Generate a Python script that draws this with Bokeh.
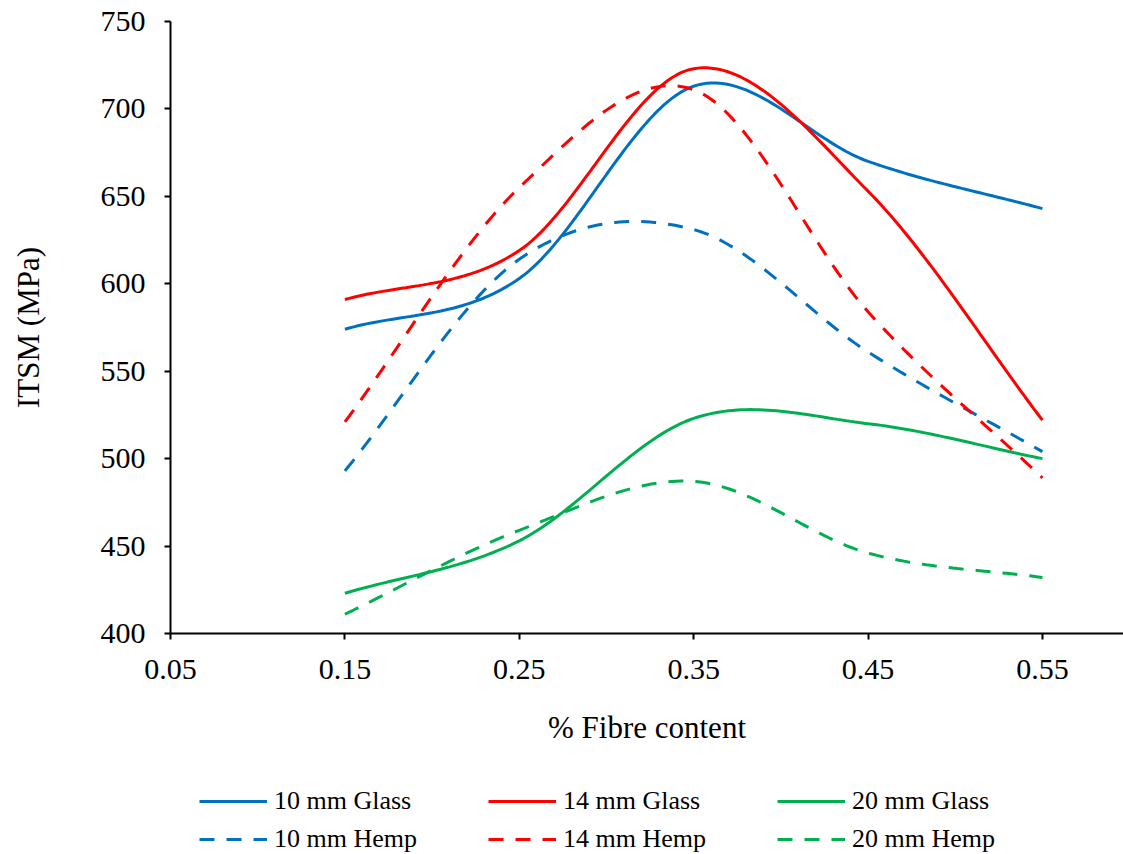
import numpy as np
from bokeh.plotting import figure
from bokeh.layouts import column
from bokeh.models import (Range1d, FixedTicker, NumeralTickFormatter, Legend, LegendItem,
                          ColumnDataSource)
from bokeh.embed import file_html
from bokeh.resources import INLINE

# ---- data ----
fibre = [0.15, 0.25, 0.35, 0.45, 0.55]
glass_10 = [574, 603, 713, 670, 643]
glass_14 = [591, 619, 723, 653, 522]
glass_20 = [423, 453, 523, 520, 500]
hemp_10 = [493, 614, 631, 561, 504]
hemp_14 = [521, 655, 711, 584, 489]
hemp_20 = [411, 459, 487, 446, 432]

x_ticks = [0.05, 0.15, 0.25, 0.35, 0.45, 0.55]
y_ticks = [400, 450, 500, 550, 600, 650, 700, 750]

series = [
    ("10 mm Glass", glass_10, "#0070C0", "solid"),
    ("14 mm Glass", glass_14, "#FF0000", "solid"),
    ("20 mm Glass", glass_20, "#00B050", "solid"),
    ("10 mm Hemp", hemp_10, "#0070C0", "15 12"),
    ("14 mm Hemp", hemp_14, "#FF0000", "15 12"),
    ("20 mm Hemp", hemp_20, "#00B050", "15 12"),
]


def smooth(xs, ys, n=40):
    """Excel-like smoothed line: cubic Bezier through the points."""
    P = np.column_stack([xs, ys]).astype(float)
    N = len(P)
    out = []
    for i in range(N - 1):
        a, b = P[i], P[i + 1]
        p0 = P[i - 1] if i > 0 else 2 * a - b
        p3 = P[i + 2] if i + 2 < N else 2 * b - a
        c1 = a + (b - p0) / 6.0
        c2 = b - (p3 - a) / 6.0
        t = np.linspace(0, 1, n, endpoint=(i == N - 2))[:, None]
        seg = ((1 - t) ** 3) * a + 3 * ((1 - t) ** 2) * t * c1 + 3 * (1 - t) * t ** 2 * c2 + t ** 3 * b
        out.append(seg)
    out = np.vstack(out)
    return out[:, 0], out[:, 1]


FONT = "Liberation Serif"

p = figure(width=1123, height=760, output_backend="svg", toolbar_location=None,
           x_range=Range1d(0.05, 0.5965), y_range=Range1d(400, 750),
           min_border_left=170, min_border_right=0, min_border_top=21,
           min_border_bottom=127)
p.outline_line_color = None
p.xgrid.visible = False
p.ygrid.visible = False
p.background_fill_color = "white"
p.border_fill_color = "white"

for name, vals, color, dash in series:
    sx, sy = smooth(fibre, vals)
    src = ColumnDataSource(dict(x=sx, y=sy))
    p.line("x", "y", source=src, line_color=color, line_width=3, line_dash=dash)

for ax in (p.xaxis[0], p.yaxis[0]):
    ax.axis_line_width = 2
    ax.axis_line_color = "black"
    ax.major_tick_line_width = 2
    ax.major_tick_line_color = "black"
    ax.major_tick_in = 0
    ax.major_tick_out = 6
    ax.minor_tick_line_color = None
    ax.major_label_text_font = FONT
    ax.major_label_text_font_size = "30px"
    ax.major_label_text_color = "black"
    ax.axis_label_text_font = FONT
    ax.axis_label_text_font_size = "31px"
    ax.axis_label_text_font_style = "normal"
    ax.axis_label_text_color = "black"

p.xaxis.ticker = FixedTicker(ticks=x_ticks)
p.xaxis.formatter = NumeralTickFormatter(format="0.00")
p.xaxis.axis_label = "% Fibre content"
p.xaxis.major_label_standoff = 20
p.xaxis.axis_label_standoff = 28

p.yaxis.ticker = FixedTicker(ticks=y_ticks)
p.yaxis.axis_label = "ITSM (MPa)"
p.yaxis.major_label_standoff = 19
p.yaxis.axis_label_standoff = 52

# ---- legend strip below the chart (its frame is aligned with the chart's) ----
lg = figure(width=1123, height=94, output_backend="svg", toolbar_location=None,
            x_range=Range1d(0, 1), y_range=Range1d(0, 1),
            x_axis_type=None, y_axis_type=None,
            min_border_left=0, min_border_right=0, min_border_top=0,
            min_border_bottom=0)
lg.outline_line_color = None
lg.xgrid.visible = False
lg.ygrid.visible = False
lg.background_fill_color = "white"
lg.border_fill_color = "white"

handles = {}
for name, vals, color, dash in series:
    handles[name] = lg.line(x=[np.nan], y=[np.nan], line_color=color, line_width=3,
                            line_dash=dash)

rows = [["10 mm Glass", "14 mm Glass", "20 mm Glass"],
        ["10 mm Hemp", "14 mm Hemp", "20 mm Hemp"]]
locs = [(29, 38), (29, 0)]
for names, loc in zip(rows, locs):
    leg = Legend(items=[LegendItem(label=n, renderers=[handles[n]]) for n in names],
                 location=loc, orientation="horizontal",
                 glyph_width=68, glyph_height=22, label_width=150, label_height=22,
                 label_standoff=7, spacing=64, padding=0, margin=0,
                 border_line_color=None, background_fill_alpha=0,
                 label_text_font=FONT, label_text_font_size="26px",
                 label_text_color="black")
    lg.add_layout(leg, "center")

layout = column(p, lg, spacing=0)
open("out.html", "w").write(file_html(layout, INLINE))
